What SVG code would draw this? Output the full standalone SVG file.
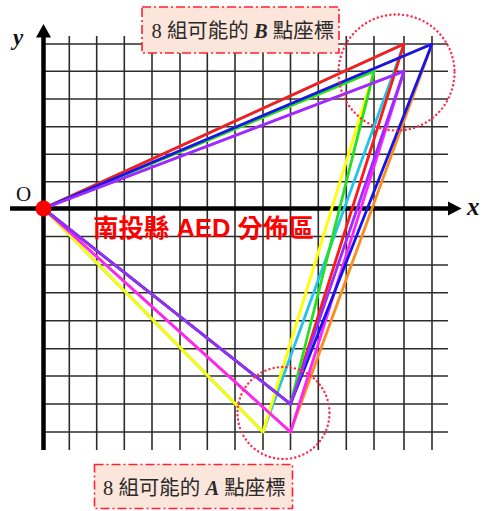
<svg xmlns="http://www.w3.org/2000/svg" width="485" height="511" viewBox="0 0 485 511">
<defs>
<style>
.grid line{stroke:#2c2c2c;stroke-width:1.6}
.axis{stroke:#000;stroke-width:4.5;fill:none}
.arrow{fill:#000}
.tri polygon{fill:none;stroke-width:2.8;stroke-linejoin:round}
.ring{fill:none;stroke:#ff2a48;stroke-width:2.4;stroke-dasharray:0.1 4.2;stroke-linecap:round}
.box{fill:#fce6dc;stroke:#ff2030;stroke-width:1.6;stroke-dasharray:9 3 2 3}
.lbl{font-family:"Liberation Serif","Noto Sans CJK TC",serif;font-size:20.5px;fill:#2a2a2a}
.ax{font-family:"Liberation Serif",serif;font-style:italic;font-weight:bold;fill:#111}
</style>
</defs>
<rect width="485" height="511" fill="#fff"/>
<g id="grid" class="grid">
<line x1="69.3" y1="36" x2="69.3" y2="450"/>
<line x1="96.7" y1="36" x2="96.7" y2="450"/>
<line x1="124.3" y1="36" x2="124.3" y2="450"/>
<line x1="152" y1="36" x2="152" y2="450"/>
<line x1="180" y1="36" x2="180" y2="450"/>
<line x1="207.3" y1="36" x2="207.3" y2="450"/>
<line x1="235" y1="36" x2="235" y2="450"/>
<line x1="263" y1="36" x2="263" y2="450"/>
<line x1="290.5" y1="36" x2="290.5" y2="450"/>
<line x1="318.3" y1="36" x2="318.3" y2="450"/>
<line x1="346.3" y1="36" x2="346.3" y2="450"/>
<line x1="374" y1="36" x2="374" y2="450"/>
<line x1="404" y1="36" x2="404" y2="450"/>
<line x1="432" y1="36" x2="432" y2="450"/>
<line x1="45" y1="44" x2="448" y2="44"/>
<line x1="45" y1="71.3" x2="448" y2="71.3"/>
<line x1="45" y1="99" x2="448" y2="99"/>
<line x1="45" y1="126.7" x2="448" y2="126.7"/>
<line x1="45" y1="154.3" x2="448" y2="154.3"/>
<line x1="45" y1="181.7" x2="448" y2="181.7"/>
<line x1="45" y1="236.5" x2="448" y2="236.5"/>
<line x1="45" y1="265" x2="448" y2="265"/>
<line x1="45" y1="292.7" x2="448" y2="292.7"/>
<line x1="45" y1="320.7" x2="448" y2="320.7"/>
<line x1="45" y1="348.7" x2="448" y2="348.7"/>
<line x1="45" y1="376" x2="448" y2="376"/>
<line x1="45" y1="404" x2="448" y2="404"/>
<line x1="45" y1="432" x2="448" y2="432"/>
</g>
<g id="axes">
<line class="axis" x1="43.5" y1="450" x2="43.5" y2="36"/>
<polygon class="arrow" points="43.5,24 51,37.5 36,37.5"/>
<line class="axis" x1="10" y1="208.5" x2="450" y2="208.5"/>
<polygon class="arrow" points="461.5,208.5 448,201.5 448,215.5"/>
<text class="ax" x="13" y="45" font-size="23">y</text>
<text class="ax" x="467" y="215" font-size="25">x</text>
<text x="16" y="200.5" font-family="Liberation Serif,serif" font-size="21" fill="#111">O</text>
</g>
<g id="connectors" class="tri">
<polygon stroke="#22c4ee" points="43.5,208.5 404,44 263,432"/>
<polygon stroke="#ff8c1a" points="43.5,208.5 432,44 290.5,432"/>
<polygon stroke="#ffff00" points="43.5,208.5 374,71.3 263,432"/>
<polygon stroke="#ff22ff" points="43.5,208.5 404,71.3 290.5,432"/>
<polygon stroke="#ff1a1a" points="43.5,208.5 404,44 290.5,404"/>
<polygon stroke="#22e022" points="43.5,208.5 374,71.3 290.5,404"/>
<polygon stroke="#1414f0" points="43.5,208.5 432,44 290.5,404"/>
<polygon stroke="#9a2cff" points="43.5,208.5 404,71.3 290.5,404"/>
</g>
<g id="origin">
<circle cx="43.5" cy="208.5" r="8" fill="#ff0000"/>
</g>
<g id="ringB"><circle class="ring" cx="396.5" cy="72.5" r="58"/></g>
<g id="ringA"><circle class="ring" cx="283.5" cy="413" r="46"/></g>
<g id="labelB">
<rect class="box" x="142" y="7" width="197" height="46"/>
<text class="lbl" x="151.5" y="37.5">8 組可能的 <tspan font-style="italic" font-weight="bold">B</tspan> 點座標</text>
</g>
<g id="labelA">
<rect class="box" x="94.5" y="464.5" width="198" height="44"/>
<text class="lbl" x="103" y="494.5">8 組可能的 <tspan font-style="italic" font-weight="bold">A</tspan> 點座標</text>
</g>
<g id="title">
<text x="93" y="236.5" font-family="Liberation Sans,Noto Sans CJK TC,sans-serif" font-weight="bold" font-size="25.5" fill="#ff0000">南投縣 AED 分佈區</text>
</g>
</svg>
